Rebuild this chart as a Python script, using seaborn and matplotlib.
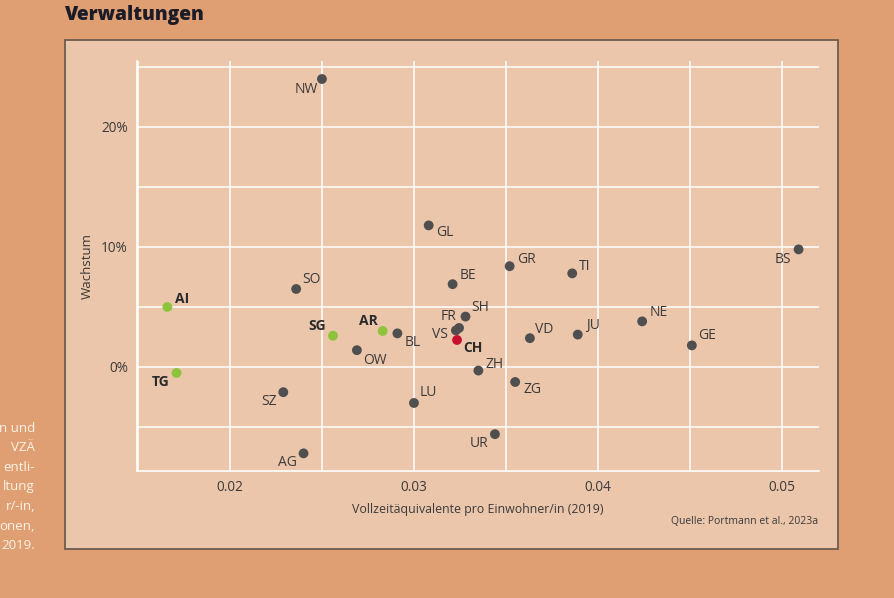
import matplotlib
matplotlib.use("Agg")
import matplotlib.pyplot as plt
import matplotlib.patches as mpatches
from matplotlib.ticker import FixedLocator, FuncFormatter
import seaborn as sns
import pandas as pd

# ---- data ----
cantons = ["NW", "GL", "GR", "TI", "BS", "BE", "SO", "AI", "SH", "NE", "FR", "VS", "CH",
           "AR", "BL", "SG", "VD", "JU", "GE", "OW", "TG", "ZH", "ZG", "SZ", "LU", "UR", "AG"]
vza = [0.0250, 0.0308, 0.0352, 0.0386, 0.0509, 0.0321, 0.0236, 0.0166, 0.0328, 0.0424,
       0.03245, 0.03228, 0.03234, 0.0283, 0.0291, 0.0256, 0.0363, 0.0389, 0.0451, 0.0269,
       0.0171, 0.0335, 0.0355, 0.0229, 0.0300, 0.0344, 0.0240]
growth = [24.0, 11.8, 8.4, 7.8, 9.8, 6.9, 6.5, 5.0, 4.2, 3.8, 3.25, 3.05, 2.25,
          3.0, 2.8, 2.6, 2.4, 2.7, 1.8, 1.4, -0.5, -0.3, -1.25, -2.1, -3.0, -5.6, -7.2]
group = ["other"] * 27
for c in ["AI", "AR", "SG", "TG"]:
    group[cantons.index(c)] = "focus"
group[cantons.index("CH")] = "ch"
bold_labels = ["AI", "AR", "SG", "TG", "CH"]

x_ticks = [0.02, 0.03, 0.04, 0.05]
x_minor = [0.015, 0.025, 0.035, 0.045]
y_ticks = [0, 10, 20]
y_minor = [-5, 5, 15, 25]

# label placement (pixel offsets dx, dy (down positive), ha)
label_pos = {
    "NW": (-4, 11, "right"), "GL": (7, 7, "left"), "GR": (7, -7, "left"), "TI": (7, -7, "left"),
    "BS": (-7, 10, "right"), "BE": (7, -9, "left"), "SO": (6, -9, "left"), "AI": (8, -8, "left"),
    "SH": (6, -9, "left"), "NE": (7, -9, "left"), "FR": (-3, -11, "right"), "VS": (-8, 4, "right"),
    "CH": (6, 8, "left"), "AR": (-5, -10, "right"), "BL": (7, 9, "left"), "SG": (-7, -10, "right"),
    "VD": (5, -9, "left"), "JU": (8, -9, "left"), "GE": (6, -10, "left"), "OW": (6, 10, "left"),
    "TG": (-7, 9, "right"), "ZH": (7, -6, "left"), "ZG": (8, 8, "left"), "SZ": (-7, 9, "right"),
    "LU": (6, -10, "left"), "UR": (-7, 9, "right"), "AG": (-7, 9, "right"),
}

df = pd.DataFrame({"canton": cantons, "vza": vza, "growth": growth, "group": group})

# ---- style ----
OUTER = "#DF9F72"
PANEL = "#EBC6AB"
TXT = "#3A3A3A"
sns.set_theme(style="white")
plt.rcParams["font.family"] = ["Open Sans", "DejaVu Sans"]

W, H = 894, 598
fig = plt.figure(figsize=(W / 100, H / 100), dpi=100, facecolor=OUTER)

# panel box
fig.patches.append(mpatches.Rectangle((65 / W, 1 - 549 / H), (838 - 65) / W, (549 - 40) / H,
                                      transform=fig.transFigure, facecolor=PANEL,
                                      edgecolor="#6E5C50", linewidth=1.3, zorder=-10))

ax = fig.add_axes([137 / W, 1 - 471 / H, (819 - 137) / W, (471 - 61) / H])
ax.set_zorder(5)
ax.set_facecolor(PANEL)

sns.scatterplot(data=df, x="vza", y="growth", hue="group",
                palette={"other": "#4F4F4F", "focus": "#8DC43C", "ch": "#C8102E"},
                s=50, edgecolor="none", linewidth=0, legend=False, ax=ax, zorder=3)

ax.set_xlim(0.01495, 0.05201)
ax.set_ylim(-8.67, 25.5)

ax.xaxis.set_major_locator(FixedLocator(x_ticks))
ax.xaxis.set_minor_locator(FixedLocator(x_minor))
ax.yaxis.set_major_locator(FixedLocator(y_ticks))
ax.yaxis.set_minor_locator(FixedLocator(y_minor))
ax.xaxis.set_major_formatter(FuncFormatter(lambda v, p: f"{v:.2f}"))
ax.yaxis.set_major_formatter(FuncFormatter(lambda v, p: f"{v:.0f}%"))

ax.grid(True, which="both", color="white", linewidth=1.1)
ax.set_axisbelow(True)
ax.tick_params(axis="both", which="major", length=3.5, width=1.1, color="white",
               labelsize=9.8, labelcolor=TXT, pad=3)
ax.tick_params(axis="both", which="minor", length=0)
for side in ["top", "right"]:
    ax.spines[side].set_visible(False)
for side in ["left", "bottom"]:
    ax.spines[side].set_color("white")
    ax.spines[side].set_linewidth(1.2)

ax.set_xlabel("Vollzeitäquivalente pro Einwohner/in (2019)", fontsize=8.9, color=TXT, labelpad=6)
ax.set_ylabel("Wachstum", fontsize=9.5, color=TXT, labelpad=5)

for c, xv, yv in zip(cantons, vza, growth):
    dx, dy, ha = label_pos[c]
    ax.annotate(c, (xv, yv), xytext=(dx * 0.72, -dy * 0.72), textcoords="offset points",
                ha=ha, va="center", fontsize=10, color="#2A2A2A" if c in bold_labels else TXT,
                fontweight="bold" if c in bold_labels else "normal", zorder=4)

# title and notes
fig.text(65 / W, 1 - 15 / H, "Verwaltungen", fontsize=13.8, fontweight="heavy",
         color="#1C1C28", ha="left", va="center")
fig.text(818 / W, 1 - 521 / H, "Quelle: Portmann et al., 2023a", fontsize=7.5, color=TXT,
         ha="right", va="center")

side_lines = ["n und", "VZÄ", "entli-", "ltung", "r/-in,", "onen,", "2019."]
for i, s in enumerate(side_lines):
    fig.text(35 / W, 1 - (428 + i * 19.6) / H, s, fontsize=9.5, color="#FDF3E8",
             ha="right", va="center")

fig.savefig("out.png", dpi=100, facecolor=OUTER)
